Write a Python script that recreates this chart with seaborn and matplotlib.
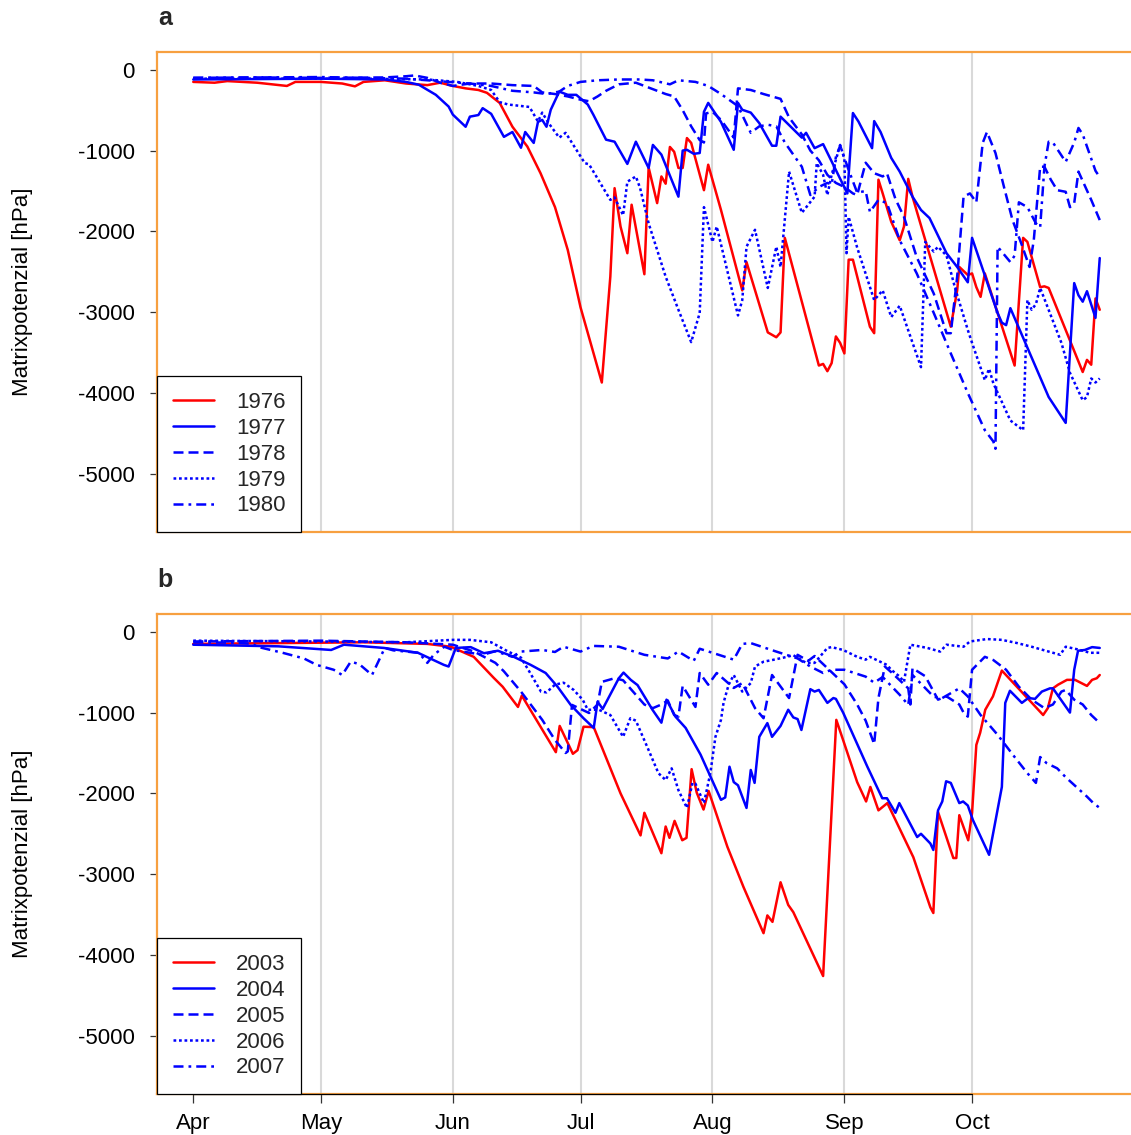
import matplotlib
matplotlib.use("Agg")
import matplotlib.pyplot as plt
import numpy as np
import pandas as pd
import seaborn as sns
from matplotlib.lines import Line2D

sns.set_theme(style="white")
plt.rcParams["font.family"] = ["Liberation Sans", "DejaVu Sans"]

# ---------------- data (day 0 = 1 April) ----------------
month_days = [0, 30, 61, 91, 122, 153, 183]
month_labels = ["Apr", "May", "Jun", "Jul", "Aug", "Sep", "Oct"]
y_ticks = [0, -1000, -2000, -3000, -4000, -5000]

years_a = ["1976", "1977", "1978", "1979", "1980"]
years_b = ["2003", "2004", "2005", "2006", "2007"]

days_1976 = [0, 5, 8, 15, 22, 24, 30, 35, 38, 40, 45, 50, 55, 58, 61, 64, 67, 69, 72, 75, 78.5, 81.6, 85, 88, 91, 96,
             98, 99, 100.4, 102, 103, 106, 107, 109, 110, 111, 112, 113, 114, 115, 116, 117, 120, 121, 124, 129, 130,
             135, 137, 138, 139, 147, 148, 149, 150, 151, 152, 153, 154, 155, 159, 160, 161, 162, 164, 166, 167, 168,
             169, 178, 179.5, 180, 182, 183, 184, 185, 186, 193, 195, 196, 199, 200, 201, 209, 210, 211, 212, 213]
mp_1976 = [-150, -160, -140, -160, -200, -150, -150, -170, -205, -150, -130, -170, -190, -160, -200, -230, -250, -285,
           -410, -705, -950, -1280, -1700, -2230, -2940, -3870, -2560, -1465, -1940, -2270, -1670, -2530, -1210, -1650,
           -1320, -1410, -955, -1015, -1215, -1215, -845, -905, -1490, -1175, -1735, -2730, -2380, -3250, -3310, -3250,
           -2080, -3660, -3640, -3730, -3630, -3300, -3380, -3510, -2350, -2350, -3180, -3260, -1360, -1530, -1880,
           -2110, -1940, -1350, -1570, -3180, -2730, -2440, -2540, -2520, -2690, -2810, -2520, -3660, -2080, -2130,
           -2690, -2680, -2700, -3740, -3590, -3650, -2830, -2970]

days_1977 = [0, 30, 45, 50, 53, 57, 60, 61, 64, 65, 67, 68, 70, 73, 75, 77, 78, 80, 81, 82, 83, 84, 86, 88, 90, 92.7,
             94, 97, 99, 102, 104, 107, 108, 110, 114, 115, 116, 117.6, 119, 120, 121, 124, 127, 128, 129, 131, 133,
             136, 137, 138, 143, 144, 146, 148, 153.7, 155, 156.3, 159.5, 160, 161.5, 164, 166, 169, 171, 173, 177,
             179.5, 182, 183, 189, 190, 191, 192, 201, 202, 205, 207, 208, 209, 210, 212, 213]
mp_1977 = [-120, -110, -120, -150, -185, -310, -455, -555, -705, -580, -560, -475, -545, -830, -770, -965, -770, -905,
           -645, -620, -705, -495, -270, -310, -310, -430, -555, -865, -890, -1165, -890, -1215, -930, -1050, -1570,
           -1000, -990, -1040, -1030, -520, -410, -645, -990, -410, -495, -530, -660, -940, -940, -580, -840, -780,
           -970, -920, -1530, -535, -640, -970, -635, -770, -1090, -1260, -1570, -1735, -1835, -2270, -2440, -2630,
           -2080, -3010, -3130, -3160, -2950, -4050, -4130, -4370, -2640, -2790, -2870, -2740, -3070, -2330]

days_1978 = [0, 15, 30, 45, 50, 52, 55, 58, 61, 65, 70, 75, 80, 82, 85, 88, 91, 93, 95, 97, 100, 104, 108, 111, 113,
             115, 117, 119, 120, 120.5, 122, 124, 127, 128, 131, 134, 136, 138, 140, 143, 145, 147, 149, 151, 153, 155,
             156, 158, 160, 162, 163, 165, 167, 170, 174, 177, 178, 179.5, 181, 182.5, 184, 185.5, 186.5, 188.5,
             190.5, 192.5, 194.5, 196.5, 197.5, 199, 200, 201.5, 203, 205, 206, 207, 208, 211, 213]
mp_1978 = [-100, -95, -100, -95, -80, -70, -100, -160, -200, -170, -170, -190, -200, -280, -300, -330, -370, -390, -330,
           -260, -180, -160, -240, -300, -330, -500, -700, -870, -900, -540, -520, -620, -840, -230, -250, -300, -330,
           -360, -590, -800, -1000, -1120, -1300, -1400, -1450, -1530, -1550, -1150, -1280, -1320, -1280, -1600, -1820,
           -2320, -2770, -3260, -3260, -2560, -1570, -1530, -1640, -905, -770, -1030, -1450, -1860, -2140, -2440, -2110,
           -1200, -1200, -1360, -1490, -1510, -1700, -1650, -1260, -1610, -1860]

days_1979 = [0, 40, 55, 62, 67, 70, 72, 74, 79, 81, 82, 83.5, 86, 87.5, 92, 93, 98, 99, 101, 102, 104, 105, 107, 111,
             114, 117, 119, 120, 122, 123, 128, 129, 130, 132, 135, 137, 138, 140, 143, 146, 146.5, 148, 149, 150, 152,
             153, 153.5, 154, 156, 160, 162, 164, 166, 171, 172, 174, 175, 177, 179, 182, 183, 186, 187, 188, 192, 195,
             196, 197, 198, 199, 204, 206, 209, 210, 211, 212, 213]
mp_1979 = [-110, -110, -120, -150, -200, -250, -400, -430, -460, -640, -530, -660, -840, -780, -1155, -1170, -1610,
           -1580, -1800, -1385, -1320, -1465, -1900, -2560, -2970, -3370, -3010, -1700, -2130, -1940, -3040, -2850,
           -2190, -1980, -2700, -2190, -2440, -1260, -1770, -1570, -1155, -1300, -1550, -1300, -930, -1100, -2270,
           -1820, -2200, -2850, -2730, -3060, -2920, -3680, -2130, -2250, -2190, -2300, -2700, -3220, -3380, -3840,
           -3700, -3880, -4340, -4460, -2850, -2970, -2900, -2700, -3380, -3750, -4090, -4050, -3820, -3870, -3820]

days_1980 = [0, 30, 50, 60, 65, 70, 75, 80, 83, 86, 88, 91, 95, 100, 105, 108, 112, 114, 118, 121, 124, 128, 131, 133,
             135, 137, 139, 143, 145, 147, 149, 150, 151, 152, 154, 156, 158, 159, 161, 163, 166, 170, 174, 178, 182,
             186, 188, 188.5, 189, 192, 193, 194, 196, 198, 199, 200, 201, 202, 205, 207, 208, 209, 212, 213]
mp_1980 = [-100, -90, -110, -150, -170, -200, -260, -280, -300, -270, -200, -150, -130, -120, -120, -130, -180, -130,
           -150, -200, -300, -450, -780, -700, -680, -700, -900, -1200, -1550, -1450, -1400, -1420, -1080, -940, -1240,
           -1520, -1500, -1760, -1610, -1650, -2110, -2520, -3010, -3510, -4000, -4460, -4600, -4690, -2190, -2380,
           -2300, -1640, -1700, -1900, -1950, -1200, -890, -900, -1140, -900, -720, -800, -1250, -1330]

days_2003 = [0, 20, 40, 55, 60.5, 65.9, 70.6, 72.7, 76.3, 77.2, 85.2, 86.1, 89.2, 90.3, 91.7, 94.1, 100.4, 105.1, 106,
             110, 111, 111.9, 113.1, 114.9, 115.9, 117.1, 118.3, 119.9, 121.1, 125.5, 129.3, 134, 134.9, 136.1, 138,
             139.8, 141, 148, 151.1, 152.7, 156, 158.1, 159.1, 161, 163.1, 169.2, 173.2, 173.9, 175, 178.6, 179.3, 180,
             182.1, 183, 184, 184.9, 186.1, 187.9, 190, 199.7, 200.8, 202, 203.2, 205.3, 207.2, 210, 211.2, 212.3, 213]
mp_2003 = [-150, -140, -130, -150, -185, -310, -570, -680, -930, -790, -1490, -1165, -1510, -1465, -1175, -1180, -2000,
           -2520, -2240, -2740, -2410, -2550, -2340, -2580, -2550, -1700, -1990, -2200, -1970, -2660, -3160, -3730,
           -3510, -3590, -3100, -3380, -3470, -4260, -1090, -1340, -1860, -2100, -1920, -2210, -2120, -2790, -3410,
           -3480, -2230, -2800, -2800, -2270, -2580, -2240, -1400, -1250, -965, -800, -480, -1030, -945, -700, -655,
           -595, -595, -670, -595, -575, -535]

days_2004 = [0, 20, 32.4, 35.4, 44.8, 52.8, 58.9, 60, 61.7, 65.2, 68.3, 71.6, 75.3, 79.3, 82.8, 85.6, 88.7, 91.7, 94.1,
             95, 96.2, 100, 101.1, 102.8, 104.4, 107.9, 110, 111.2, 113.3, 115.7, 119.2, 124, 125, 126, 127, 128, 130,
             131, 131.9, 133, 134.9, 136, 138, 139.8, 141, 142, 142.9, 145, 146, 147, 149, 150.4, 151, 152.7, 158.4,
             161.9, 163, 165, 165.9, 170.1, 171, 173.2, 173.9, 175, 176, 176.9, 178, 180, 180.9, 182, 183.2, 187, 190,
             190.8, 191.9, 194.7, 196.2, 197.8, 199.4, 201.3, 202, 206, 207, 207.9, 209.5, 211.2, 213]
mp_2004 = [-160, -180, -225, -160, -200, -260, -410, -430, -200, -190, -265, -235, -310, -410, -510, -680, -905, -1070,
           -1190, -865, -955, -575, -505, -595, -660, -965, -1125, -840, -1050, -1190, -1520, -2080, -2050, -1670,
           -1860, -1900, -2180, -1710, -1870, -1300, -1130, -1300, -1165, -965, -1060, -1080, -1215, -710, -740, -720,
           -880, -820, -830, -1000, -1670, -2060, -2060, -2240, -2120, -2540, -2500, -2620, -2700, -2210, -2100, -1850,
           -1870, -2120, -2100, -2150, -2330, -2760, -1920, -880, -730, -880, -820, -830, -740, -700, -700, -1000, -470,
           -235, -225, -190, -200]

days_2005 = [0, 30, 50, 61, 66, 71, 73, 77, 82, 85, 87.5, 88, 89, 93, 95, 96, 99, 101, 103, 106, 108, 110, 111.5, 113,
             114, 115, 118, 119, 121, 123, 127, 129, 132, 134, 136, 140, 142, 144.5, 146, 148, 150, 153, 156, 158, 160,
             161, 162.5, 164, 166, 168, 168.5, 169, 172, 175, 177, 180, 181, 182, 183, 186, 188, 191, 194, 197, 200,
             202, 204, 205, 207, 209, 211, 213]
mp_2005 = [-120, -110, -130, -160, -245, -385, -490, -740, -1090, -1340, -1500, -1480, -905, -1005, -900, -620, -575,
           -600, -720, -900, -945, -900, -850, -1030, -1050, -670, -930, -510, -655, -510, -695, -635, -945, -1070, -535,
           -820, -285, -360, -300, -400, -500, -650, -900, -1100, -1390, -820, -430, -500, -600, -700, -900, -450, -550,
           -840, -800, -900, -1000, -1050, -470, -310, -350, -470, -680, -840, -945, -900, -740, -720, -840, -900,
           -1030, -1130]

days_2006 = [0, 30, 50, 61, 65, 70, 74, 77, 79, 81.7, 83, 85, 87, 89.4, 91.5, 92.7, 95.3, 98, 101, 102.7, 104, 107,
             109.3, 111, 112.4, 114, 116, 117.3, 118, 120, 121.5, 122.7, 124, 124.6, 125.8, 127, 129, 131, 132, 134,
             136, 138.7, 141, 144, 146, 149, 150, 152.7, 156, 158, 159, 163, 164, 166, 167, 168.5, 172.5, 175.5, 177,
             181, 182.5, 186.5, 190, 193.6, 197, 201, 203.7, 205, 208, 210.7, 213]
mp_2006 = [-110, -120, -130, -100, -100, -130, -245, -320, -495, -740, -750, -655, -630, -720, -840, -965, -965, -1030,
           -1300, -1070, -1100, -1465, -1750, -1835, -1690, -1960, -2180, -1870, -1880, -2120, -1750, -1300, -1090,
           -880, -655, -535, -740, -635, -430, -370, -350, -320, -290, -385, -385, -200, -190, -225, -310, -345, -310,
           -410, -470, -555, -620, -160, -200, -245, -160, -185, -120, -90, -100, -140, -185, -245, -285, -185, -220,
           -260, -260]

days_2007 = [0, 10, 14, 15, 21, 26, 29, 33, 35, 37, 39, 42, 45, 47, 53, 55, 56.5, 59, 61, 68, 71, 75, 77, 82, 85, 87,
             91, 94, 100, 106, 111.5, 114, 117.6, 119, 122, 127, 129, 131, 137, 142, 145, 148, 150, 153, 158, 160, 162,
             166, 168, 169, 174, 176, 180, 182, 185, 189, 193, 196, 198, 199, 200.5, 203, 205, 207.5, 210, 211.5, 213]
mp_2007 = [-130, -135, -150, -185, -260, -330, -410, -470, -535, -370, -400, -535, -200, -230, -260, -385, -285, -185,
           -225, -285, -240, -310, -245, -225, -250, -185, -245, -175, -185, -285, -330, -245, -360, -210, -260, -345,
           -150, -140, -245, -330, -430, -510, -470, -470, -555, -630, -560, -780, -905, -535, -805, -820, -700, -800,
           -1030, -1275, -1550, -1750, -1870, -1550, -1625, -1690, -1800, -1920, -2040, -2120, -2180]

# ---------------- styles ----------------
ORANGE = "#F7A040"
palette = {"1976": "#FF0000", "1977": "#0000FF", "1978": "#0000FF", "1979": "#0000FF", "1980": "#0000FF",
           "2003": "#FF0000", "2004": "#0000FF", "2005": "#0000FF", "2006": "#0000FF", "2007": "#0000FF"}
dash_map = {"1976": "", "1977": "", "1978": (4, 2), "1979": (1.1, 1.1), "1980": (4, 2, 1.1, 2),
            "2003": "", "2004": "", "2005": (4, 2), "2006": (1.1, 1.1), "2007": (4, 2, 1.1, 2)}
LW = 1.8
FS = 16


def long_frame(days_list, vals_list, years):
    parts = []
    for d, v, y in zip(days_list, vals_list, years):
        parts.append(pd.DataFrame({"day": d, "mp": v, "year": y}))
    return pd.concat(parts, ignore_index=True)


df_a = long_frame([days_1976, days_1977, days_1978, days_1979, days_1980],
                  [mp_1976, mp_1977, mp_1978, mp_1979, mp_1980], years_a)
df_b = long_frame([days_2003, days_2004, days_2005, days_2006, days_2007],
                  [mp_2003, mp_2004, mp_2005, mp_2006, mp_2007], years_b)

W, H = 1131, 1135
fig = plt.figure(figsize=(W / 100, H / 100), dpi=100)
ax_a = fig.add_axes([157 / W, 1 - 532 / H, 979 / W, 480 / H])
ax_b = fig.add_axes([157 / W, 1 - 1094 / H, 979 / W, 480 / H])

for ax, df, years, label in [(ax_a, df_a, years_a, "a"), (ax_b, df_b, years_b, "b")]:
    ax.set_facecolor("white")
    for d in month_days[1:]:
        ax.axvline(d, color="#D9D9D9", lw=1.5, zorder=0)
    sns.lineplot(data=df, x="day", y="mp", hue="year", style="year",
                 hue_order=years, style_order=years,
                 palette={y: palette[y] for y in years},
                 dashes={y: dash_map[y] for y in years},
                 sort=False, estimator=None, lw=LW, legend=False, ax=ax, zorder=2)
    ax.set_xlim(-8.52, 221.52)
    ax.set_ylim(-5720, 220)
    for s in ax.spines.values():
        s.set_visible(True)
        s.set_color(ORANGE)
        s.set_linewidth(1.6)
    ax.set_yticks(y_ticks)
    ax.set_yticklabels([str(t) for t in y_ticks])
    ax.tick_params(axis="y", which="both", left=True, direction="out", length=5,
                   width=0.9, color="#333333", pad=11, labelsize=FS, labelcolor="black")
    ax.set_ylabel("Matrixpotenzial [hPa]", fontsize=FS, color="black")
    ax.yaxis.set_label_coords(-0.127, 0.5)
    ax.set_xlabel("")
    ax.grid(False)

    handles = []
    for y in years:
        dsh = dash_map[y]
        ls = "-" if dsh == "" else (0, dsh)
        handles.append(Line2D([0], [0], color=palette[y], lw=LW, linestyle=ls))
    leg = ax.legend(handles, years, loc="lower left", bbox_to_anchor=(0, 0),
                    borderaxespad=0, frameon=True, fancybox=False, fontsize=FS,
                    handlelength=1.85, handletextpad=1.0, borderpad=0.7,
                    labelspacing=0.22)
    leg.get_frame().set_edgecolor("black")
    leg.get_frame().set_linewidth(0.9)
    leg.get_frame().set_facecolor("white")
    leg.get_frame().set_alpha(1)
    leg.set_zorder(5)

    fig.text(165 / W, 1 - (18 if label == "a" else 580) / H, label,
             fontsize=18, fontweight="bold", ha="center", va="center")

ax_a.set_xticks(month_days)
ax_a.tick_params(axis="x", bottom=False, labelbottom=False)

ax_b.set_xticks(month_days)
ax_b.set_xticklabels(month_labels)
ax_b.tick_params(axis="x", bottom=True, direction="out", length=6.5, width=0.9,
                 color="#333333", pad=7, labelsize=FS, labelcolor="black")
ax_b.plot([0, 183], [0, 0], transform=ax_b.get_xaxis_transform(),
          color="black", lw=0.9, clip_on=False, zorder=4)

fig.savefig("out.png", dpi=100, facecolor="white")
